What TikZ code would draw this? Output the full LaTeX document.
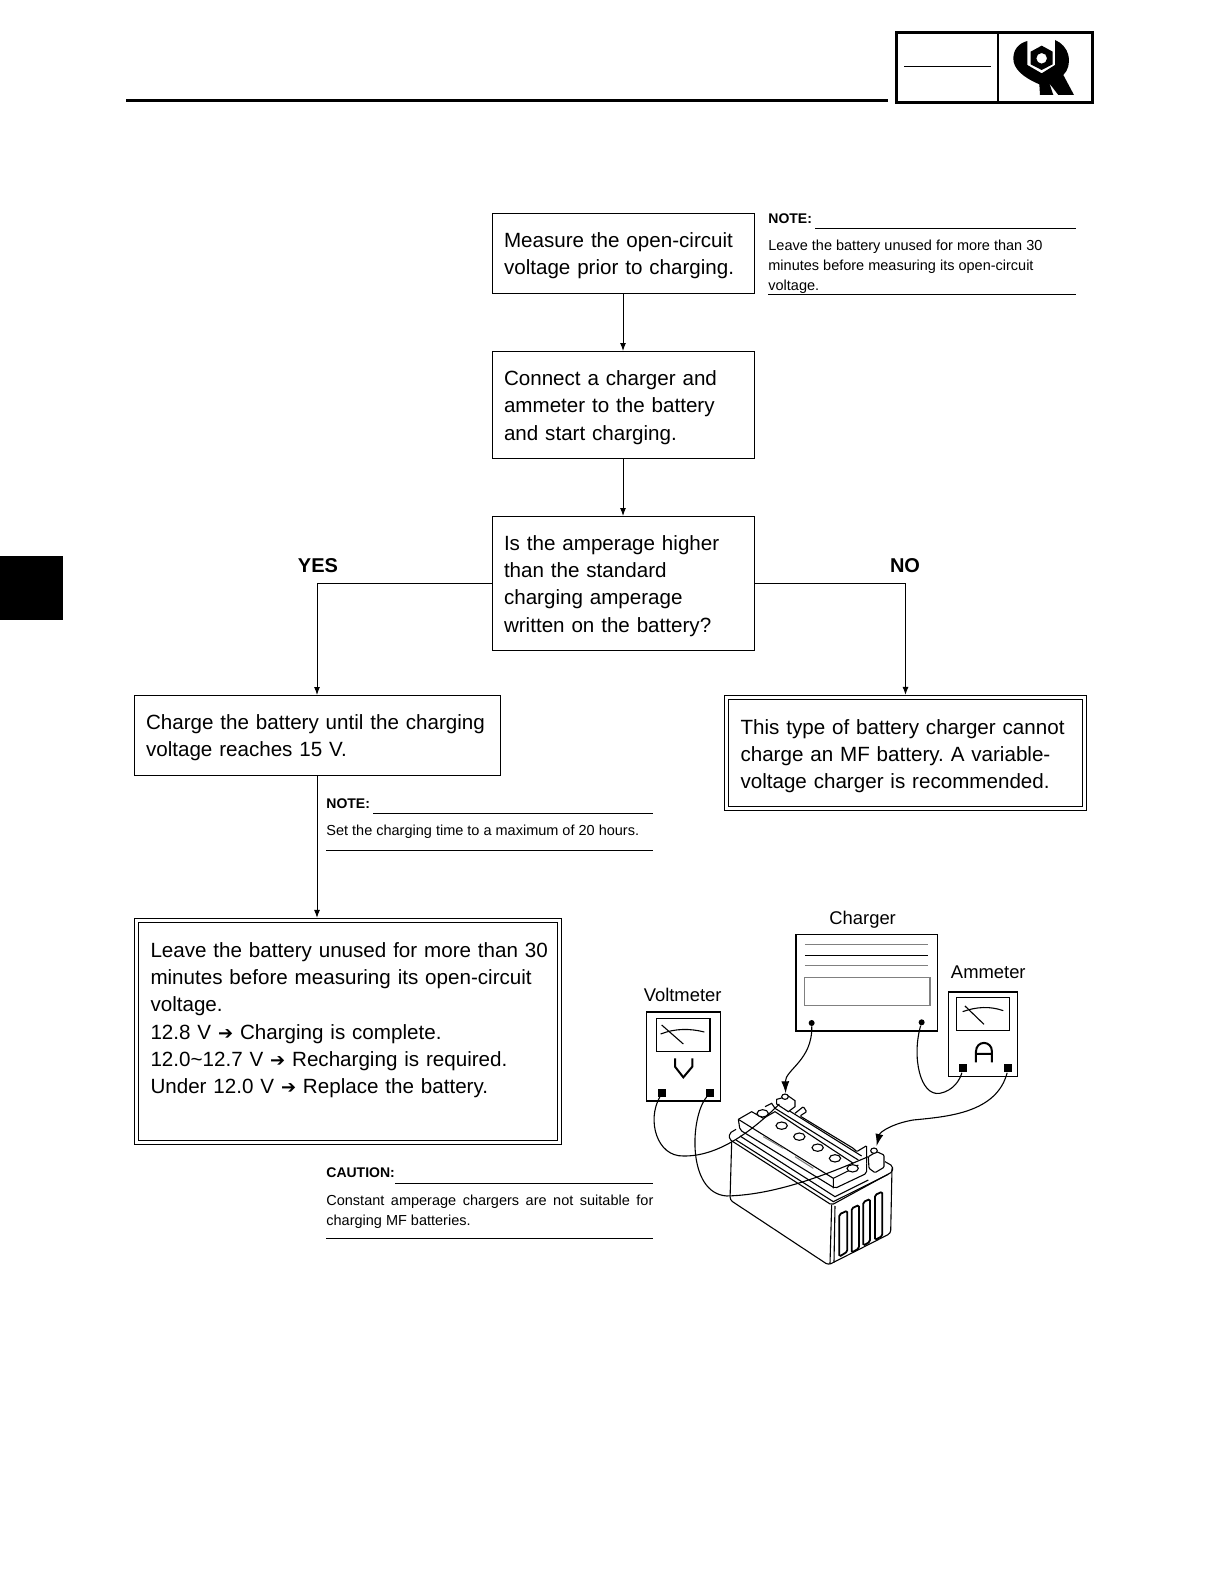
\documentclass[tikz,border=0pt]{standalone}
\usepackage{fontspec}
\setmainfont{Liberation Sans}
\newfontfamily\arrowfont{DejaVu Sans}
\usepackage{tikz}
\usetikzlibrary{arrows.meta}
\frenchspacing
\hyphenpenalty=10000
\newcommand{\ra}{{\arrowfont\small ➔}}
\tikzset{
  flowbox/.style={draw,line width=0.5pt,font=\fontsize{10.3}{13.6}\selectfont,align=left,inner xsep=6pt,inner ysep=0pt,outer sep=0pt,execute at begin node={\rule{0pt}{10.5pt}}},
  endbox/.style={flowbox,double,double distance=1.6pt,line width=0.5pt,outer sep=1.3pt,inner xsep=7pt},
  flowline/.style={line width=0.5pt,-{Latex[length=4pt,width=3pt]}},
  wire/.style={line width=0.55pt},
  wirearrow/.style={wire,-{Latex[length=6pt,width=4pt]}},
  answer/.style={font=\fontsize{10}{12}\selectfont\bfseries},
  notehead/.style={font=\fontsize{7}{9}\selectfont\bfseries,anchor=west,inner sep=0pt},
  notetext/.style={font=\fontsize{7.25}{9.85}\selectfont,anchor=north west,inner sep=0pt,text width=162pt,align=justify},
  rule/.style={line width=0.45pt},
  partname/.style={font=\fontsize{9.2}{10}\selectfont},
  terminal/.style={fill=black,minimum size=4pt,inner sep=0pt},
  outline/.style={line width=0.55pt},
}
\begin{document}
\begin{tikzpicture}[x=0.5pt,y=-0.5pt]
  \useasboundingbox (0,0) rectangle (1224,1584);
  % page furniture
  \fill (0,556) rectangle (63,620);
  \draw[line width=1.5pt] (126,101) -- (888,101);
  \draw[line width=1.5pt] (896,32.5) rectangle (1092,102.5);
  \draw[line width=1.2pt] (998,32) -- (998,102);
  \draw[line width=0.5pt] (904,67) -- (991,67);
  \begin{scope}[shift={(1000,30)},scale=0.3333]
    \fill (82,33) .. controls (55,40) and (40,60) .. (40,85) .. controls (40,115) and (65,140) .. (118,163) -- (120,195) -- (160,195) -- (148,160) -- (175,195) -- (222,195) -- (190,135)
      .. controls (205,120) and (210,100) .. (205,75) .. controls (200,55) and (185,38) .. (165,30) -- (165,105) -- (125,130) -- (82,105) -- cycle;
    \fill[even odd rule] (125,47) -- (158,65) -- (158,103) -- (125,120) -- (92,103) -- (92,65) -- cycle (125,85) circle[radius=16];
  \end{scope}
  % flow boxes
  \node[flowbox,minimum width=131pt,minimum height=40pt,text width=119pt] (measure) at (623,253) {Measure the open-circuit\\voltage prior to charging.};
  \node[flowbox,minimum width=131pt,minimum height=53.5pt,text width=119pt] (connect) at (623,404.5) {Connect a charger and\\ammeter to the battery\\and start charging.};
  \node[flowbox,minimum width=131pt,minimum height=67pt,text width=119pt] (amps) at (623,583) {Is the amperage higher\\than the standard\\charging amperage\\written on the battery?};
  \node[flowbox,minimum width=183pt,minimum height=40pt,text width=171pt] (charge) at (317,735) {Charge the battery until the charging\\voltage reaches 15 V.};
  \node[endbox,minimum width=179pt,minimum height=55.5pt,text width=165pt] (novar) at (905.5,753) {This type of battery charger cannot\\charge an MF battery. A variable-\\voltage charger is recommended.};
  \node[endbox,minimum width=211.5pt,minimum height=111pt,text width=197.5pt] (leave) at (348,1031.5) {\mbox{Leave the battery unused for more than 30}\\minutes before measuring its open-circuit\\voltage.\\12.8 V \ra\ Charging is complete.\\12.0\textasciitilde12.7 V \ra\ Recharging is required.\\Under 12.0 V \ra\ Replace the battery.\\[3pt]~};
  \node[answer] (yes) at (318,566) {YES};
  \node[answer] (no) at (905,566) {NO};
  \draw[flowline] (measure) -- (connect);
  \draw[flowline] (connect) -- (amps);
  \draw[flowline] (amps.west) -| (charge.north);
  \draw[flowline] (amps.east) -| (novar.north);
  \draw[flowline] (charge.south) -- (charge.south |- leave.north);
  % notes
  \node[notehead] (note1) at (768,219) {NOTE:};
  \draw[rule] (815,228) -- (1076,228);
  \node[notetext,text width=154pt] (note1txt) at (768,240) {Leave the battery unused for more than 30\\minutes before measuring its open-circuit\\voltage.};
  \draw[rule] (768,294) -- (1076,294);
  \node[notehead] (note2) at (326,804) {NOTE:};
  \draw[rule] (373,813) -- (653,813);
  \node[notetext] (note2txt) at (326,825) {Set the charging time to a maximum of 20 hours.};
  \draw[rule] (326,850) -- (653,850);
  \node[notehead] (caution) at (326,1173) {CAUTION:};
  \draw[rule] (395,1183) -- (653,1183);
  \node[notetext,text width=163.5pt] (cautiontxt) at (326,1195) {Constant amperage chargers are not suitable for charging MF batteries.};
  \draw[rule] (326,1238) -- (653,1238);
  % battery
  \begin{scope}[shift={(720,1080)},scale=0.3333]
    \draw[outline,rounded corners=1.5pt] (35,185) -- (30,360) -- (325,555) -- (512,460) -- (516,265);
    \draw[outline,rounded corners=1pt] (48,148) -- (28,160) -- (28,178) -- (335,375) -- (518,275) -- (518,258) -- (495,245);
    \draw[outline] (48,180) -- (340,365) -- (505,283);
    \draw[outline] (60,168) -- (345,350) -- (445,300);
    \draw[outline] (335,375) -- (330,552);
    \draw[outline] (345,378) -- (342,548);
    \draw[outline,rounded corners=1pt] (55,118) -- (60,150) -- (345,325) -- (440,280) -- (440,250);
    \draw[outline] (55,118) -- (95,95) -- (130,115);
    \draw[outline] (55,118) -- (340,295) -- (340,325);
    \draw[outline] (340,295) -- (390,270) -- (415,255);
    \draw[outline,gray] (130,170) -- (190,205) (225,230) -- (280,265);
    \draw[outline] (135,80) -- (155,70) -- (165,85) -- (415,240);
    \draw[outline] (180,75) -- (425,228);
    \draw[outline] (130,115) -- (165,95) -- (400,250);
    \draw[outline,rounded corners=0.5pt] (225,100) -- (250,80) -- (260,95) -- (240,108) -- (400,205) -- (410,215) -- (440,197) -- (440,250);
    \foreach \cx/\cy in {128/100,185/137,238/170,293/203,345/235,398/265}
      \draw[outline,fill=white] (\cx,\cy) ellipse[x radius=17,y radius=11];
    \draw[outline,fill=white] (170,58) -- (170,72) -- (205,95) -- (225,80) -- (225,62) -- (205,48) -- cycle;
    \draw[outline,fill=white] (195,50) ellipse[x radius=10,y radius=8];
    \draw[outline,fill=white,rounded corners=0.5pt] (445,230) -- (447,265) -- (465,278) -- (492,262) -- (492,225) -- (470,215) -- cycle;
    \draw[outline,fill=white] (462,212) ellipse[x radius=10,y radius=8];
    \foreach \ax/\bx/\ta/\tb/\ba/\bb in {358/382/403/392/530/515,395/417/385/375/518/505,430/450/366/357/497/485,465/487/345/335/480/468}
      \draw[line width=0.9pt,rounded corners=0.8pt] (\ax,\ba) -- (\ax,\ta) -- (\bx,\tb) -- (\bx,\bb) -- cycle;
  \end{scope}
  % test setup
  \begin{scope}[shift={(620,900)},scale=0.3333]
    \node[partname] (chargerlbl) at (728,59) {Charger};
    \node[partname] (ammeterlbl) at (1105,218) {Ammeter};
    \node[partname] (voltlbl) at (188,285) {Voltmeter};
    % charger
    \draw[line width=0.6pt] (528,103) rectangle (952,393);
    \draw[outline,gray] (555,134) -- (925,134);
    \draw[outline] (555,166) -- (925,166);
    \draw[outline,gray] (555,196) -- (925,196);
    \draw[outline,gray] (553,233) rectangle (930,316);
    \node[terminal,circle,minimum size=3pt] (chgneg) at (575,369) {};
    \node[terminal,circle,minimum size=3pt] (chgpos) at (905,367) {};
    % ammeter
    \draw[line width=0.6pt] (986,276) rectangle (1192,530);
    \draw[line width=0.6pt] (1010,293) rectangle (1168,391);
    \draw[outline] (1035,318) -- (1092,373);
    \draw[outline] (1028,335) .. controls (1070,320) and (1110,318) .. (1150,332);
    \draw[line width=1pt] (1068,487) -- (1068,455) .. controls (1068,420) and (1116,420) .. (1116,455) -- (1116,487) (1068,462) -- (1116,462);
    \node[terminal] (ammneg) at (1029,505) {};
    \node[terminal] (ammpos) at (1165,505) {};
    % voltmeter
    \draw[line width=0.6pt] (80,336) rectangle (302,603);
    \draw[line width=0.6pt] (110,355) rectangle (270,454);
    \draw[outline] (125,375) -- (190,432);
    \draw[outline] (122,402) .. controls (165,385) and (210,385) .. (253,396);
    \draw[line width=1pt] (165,475) -- (165,500) -- (190,532) -- (217,500) -- (217,475);
    \node[terminal] (voltneg) at (127,578) {};
    \node[terminal] (voltpos) at (271,578) {};
    \coordinate (batpos) at (497,580);
    \coordinate (batneg) at (770,738);
    \coordinate (batlow) at (478,612);
    \coordinate (batcap) at (745,770);
    % leads
    \draw[wirearrow] (chgneg) .. controls (578,480) and (495,510) .. (batpos);
    \draw[wire] (chgpos) .. controls (875,470) and (900,590) .. (960,580) .. controls (1000,572) and (1020,540) .. (ammneg);
    \draw[wirearrow] (ammpos) .. controls (1130,640) and (980,650) .. (880,660) .. controls (820,670) and (780,695) .. (batneg);
    \draw[wire] (voltneg) .. controls (80,660) and (110,770) .. (190,768) .. controls (290,770) and (390,700) .. (batlow);
    \draw[wire] (voltpos) .. controls (210,650) and (200,880) .. (320,888) .. controls (480,885) and (650,810) .. (batcap);
  \end{scope}
\end{tikzpicture}
\end{document}
